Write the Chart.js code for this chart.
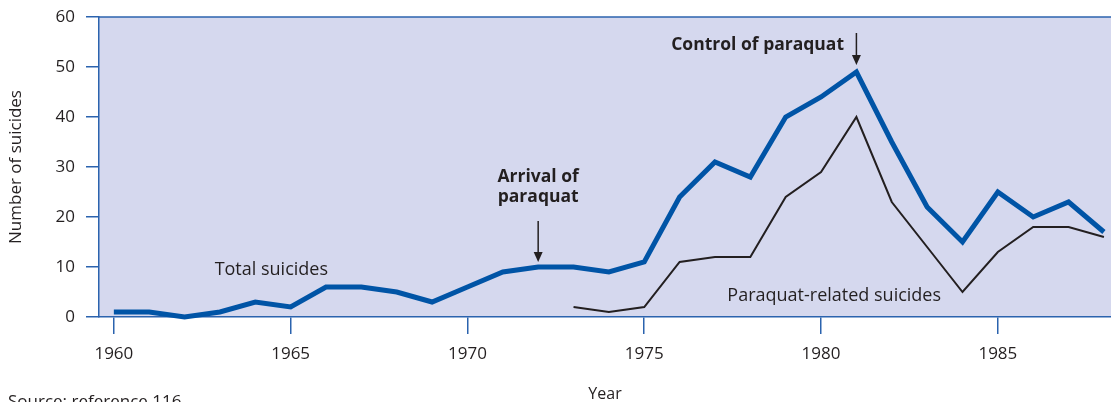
<!DOCTYPE html>
<html>
<head>
<meta charset="utf-8">
<script src="https://cdn.jsdelivr.net/npm/chart.js@4/dist/chart.umd.min.js"></script>
<style>
  html, body { margin: 0; padding: 0; background: #fff; }
  #wrap { width: 1111px; height: 402px; position: relative; }
</style>
</head>
<body>
<div id="wrap"><canvas id="chart"></canvas></div>
<script>
const years = [1960, 1961, 1962, 1963, 1964, 1965, 1966, 1967, 1968, 1969, 1970, 1971, 1972, 1973,
  1974, 1975, 1976, 1977, 1978, 1979, 1980, 1981, 1982, 1983, 1984, 1985, 1986, 1987, 1988]
const totalSuicides = [1, 1, 0, 1, 3, 2, 6, 6, 5, 3, 6, 9, 10, 10,
  9, 11, 24, 31, 28, 40, 44, 49, 35, 22, 15, 25, 20, 23, 17]

const paraquatYears = [1973, 1974, 1975, 1976, 1977, 1978, 1979, 1980, 1981, 1982, 1983, 1984, 1985, 1986, 1987, 1988]
const paraquatSuicides = [2, 1, 2, 11, 12, 12, 24, 29, 40, 23, 14, 5, 13, 18, 18, 16]

const xTicks = [1960, 1965, 1970, 1975, 1980, 1985]
const yTicks = [0, 10, 20, 30, 40, 50, 60]

const BLUE = '#0054a6'
const AXIS = '#2b63ae'
const INK = '#231f20'
const FONT = '"Open Sans", "Noto Sans", sans-serif'

// text notes placed in data space
const notes = [
  { text: 'Total suicides', x: 1962.85, y: 9.4, align: 'left', font: '18px ' },
  { text: 'Paraquat-related suicides', x: 1977.35, y: 4.2, align: 'left', font: '18px ' },
  { text: 'Arrival of', x: 1972, y: 28, align: 'center', font: 'bold 17.5px ' },
  { text: 'paraquat', x: 1972, y: 24, align: 'center', font: 'bold 17.5px ' },
  { text: 'Control of paraquat', x: 1980.65, y: 54.4, align: 'right', font: 'bold 17.5px ' }
]
const arrows = [
  { x: 1972, from: 19.2, to: 11 },
  { x: 1981, from: 56.8, to: 50.4 }
]

const toXY = (xs, ys) => xs.map((x, i) => ({ x: x, y: ys[i] }))

const plotBg = {
  id: 'plotBg',
  beforeDraw(chart) {
    const { ctx, chartArea: a } = chart
    ctx.save()
    ctx.fillStyle = '#d5d8ee'
    ctx.fillRect(a.left, a.top, a.right - a.left, a.bottom - a.top)
    ctx.restore()
  },
  afterDatasetsDraw(chart) {
    const { ctx, chartArea: a, scales } = chart
    const xs = scales.x, ys = scales.y
    ctx.save()
    // top border
    ctx.strokeStyle = AXIS
    ctx.lineWidth = 1.5
    ctx.beginPath()
    ctx.moveTo(a.left, a.top)
    ctx.lineTo(a.right, a.top)
    ctx.stroke()

    ctx.fillStyle = INK
    ctx.textBaseline = 'middle'
    notes.forEach(n => {
      ctx.font = n.font + FONT
      ctx.textAlign = n.align
      ctx.fillText(n.text, xs.getPixelForValue(n.x), ys.getPixelForValue(n.y))
    })

    ctx.strokeStyle = INK
    ctx.lineWidth = 1.5
    arrows.forEach(ar => {
      const px = xs.getPixelForValue(ar.x)
      const y0 = ys.getPixelForValue(ar.from)
      const y1 = ys.getPixelForValue(ar.to)
      ctx.beginPath()
      ctx.moveTo(px, y0)
      ctx.lineTo(px, y1 - 8)
      ctx.stroke()
      ctx.beginPath()
      ctx.moveTo(px - 4.5, y1 - 10)
      ctx.lineTo(px + 4.5, y1 - 10)
      ctx.lineTo(px, y1)
      ctx.closePath()
      ctx.fill()
    })

    // source line at the bottom
    ctx.font = '17px ' + FONT
    ctx.textAlign = 'left'
    ctx.textBaseline = 'top'
    ctx.fillText('Source: reference 116', 8, 394)
    ctx.restore()
  }
}

new Chart(document.getElementById('chart'), {
  type: 'line',
  data: {
    datasets: [{
      label: 'Total suicides',
      data: toXY(years, totalSuicides),
      borderColor: BLUE,
      borderWidth: 5,
      borderJoinStyle: 'miter',
      pointRadius: 0,
      tension: 0
    }, {
      label: 'Paraquat-related suicides',
      data: toXY(paraquatYears, paraquatSuicides),
      borderColor: INK,
      borderWidth: 2,
      borderJoinStyle: 'miter',
      pointRadius: 0,
      tension: 0
    }]
  },
  options: {
    responsive: true,
    maintainAspectRatio: false,
    animation: false,
    clip: false,
    layout: { padding: { top: 17, right: 0, left: 0, bottom: 0 } },
    plugins: {
      legend: { display: false },
      tooltip: { enabled: false }
    },
    scales: {
      x: {
        type: 'linear',
        min: 1959.58,
        max: 1988.2,
        afterBuildTicks: scale => { scale.ticks = xTicks.map(v => ({ value: v })) },
        afterFit: scale => {
          scale.height = 85
          scale.paddingLeft = 0
          scale.paddingRight = 0
        },
        ticks: {
          color: INK,
          padding: 10,
          maxRotation: 0,
          autoSkip: false,
          font: { family: FONT, size: 17 },
          callback: v => String(v)
        },
        grid: { drawOnChartArea: false, color: AXIS, lineWidth: 1.5, tickLength: 17 },
        border: { color: AXIS, width: 1.5 },
        title: {
          display: true,
          text: 'Year',
          color: INK,
          font: { family: FONT, size: 16 },
          padding: { top: 0, bottom: -2 }
        }
      },
      y: {
        min: 0,
        max: 60,
        afterBuildTicks: scale => { scale.ticks = yTicks.map(v => ({ value: v })) },
        afterFit: scale => {
          scale.width = 99
          scale.paddingTop = 0
          scale.paddingBottom = 0
        },
        ticks: {
          color: INK,
          padding: 11,
          font: { family: FONT, size: 17 }
        },
        grid: { drawOnChartArea: false, color: AXIS, lineWidth: 1.5, tickLength: 13 },
        border: { color: AXIS, width: 1.5 },
        title: {
          display: true,
          text: 'Number of suicides',
          color: INK,
          font: { family: FONT, size: 17 },
          padding: { top: 6, bottom: 0 }
        }
      }
    }
  },
  plugins: [plotBg]
})
</script>
</body>
</html>
